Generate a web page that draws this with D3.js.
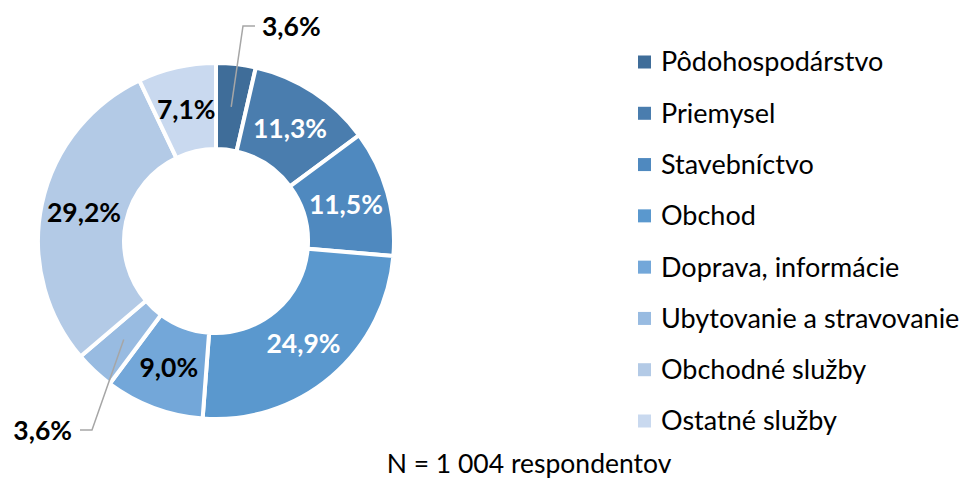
<!DOCTYPE html>
<html>
<head>
<meta charset="utf-8">
<script src="https://cdn.jsdelivr.net/npm/d3@7"></script>
<style>
  body { margin: 0; background: #fff; }
  text { font-family: Lato, "Open Sans", sans-serif; }
</style>
</head>
<body>
<div id="chart"></div>
<script>
var width = 964;
var height = 479;

// data
var categories = ["Pôdohospodárstvo", "Priemysel", "Stavebníctvo", "Obchod",
    "Doprava, informácie", "Ubytovanie a stravovanie", "Obchodné služby", "Ostatné služby"];
var shares = [3.6, 11.3, 11.5, 24.9, 9.0, 3.6, 29.2, 7.1];
var colors = ["#3f6d99", "#4a7dae", "#4f89bf", "#5a98ce", "#73a7d9", "#98bbe1", "#b3cae6", "#c9d9ef"];
var whiteLabels = [1, 2, 3];
var footnote = "N = 1 004 respondentov";

var cx = 216, cy = 241;
var outerR = 178, innerR = 92;

var svg = d3.select("#chart")
    .append("svg")
    .attr("width", width)
    .attr("height", height);

var pie = d3.pie().sort(null).value(function (d) { return d; });
var arc = d3.arc().innerRadius(innerR).outerRadius(outerR);
var labelArc = d3.arc().innerRadius(135).outerRadius(135);

var fmt = function (v) { return d3.format(".1f")(v).replace(".", ",") + "%"; };

var g = svg.append("g").attr("transform", "translate(" + cx + "," + cy + ")");

var arcs = pie(shares);

g.selectAll("path")
    .data(arcs)
    .join("path")
    .attr("d", arc)
    .attr("fill", function (d, i) { return colors[i]; })
    .attr("stroke", "#fff")
    .attr("stroke-width", 4)
    .attr("stroke-linejoin", "miter");

// labels inside the ring (small slices get leader lines)
var outside = { 0: { elbow: [243, 26], end: [255, 26], anchor: "start", tx: 262 },
                5: { elbow: [92, 430], end: [80, 430], anchor: "end", tx: 72 } };

arcs.forEach(function (d, i) {
    var c = labelArc.centroid(d);
    if (outside[i]) {
        var o = outside[i];
        svg.append("polyline")
            .attr("points", [[c[0] + cx, c[1] + cy], o.elbow, o.end].map(function (p) { return p.join(","); }).join(" "))
            .attr("fill", "none")
            .attr("stroke", "#a6a6a6")
            .attr("stroke-width", 1.5);
        svg.append("text")
            .attr("x", o.tx)
            .attr("y", o.end[1])
            .attr("dy", "0.36em")
            .attr("text-anchor", o.anchor)
            .attr("font-size", 26.5)
            .attr("font-weight", "bold")
            .attr("fill", "#000")
            .text(fmt(shares[i]));
    } else {
        g.append("text")
            .attr("x", c[0])
            .attr("y", c[1])
            .attr("dy", "0.36em")
            .attr("text-anchor", "middle")
            .attr("font-size", 26.5)
            .attr("font-weight", "bold")
            .attr("fill", whiteLabels.indexOf(i) >= 0 ? "#fff" : "#000")
            .text(fmt(shares[i]));
    }
});

// legend
var legendY = d3.scalePoint().domain(categories).range([62, 421]);

var legend = svg.append("g");
legend.selectAll("rect")
    .data(categories)
    .join("rect")
    .attr("x", 638)
    .attr("y", function (d) { return legendY(d) - 6.5; })
    .attr("width", 13)
    .attr("height", 13)
    .attr("fill", function (d, i) { return colors[i]; });

legend.selectAll("text")
    .data(categories)
    .join("text")
    .attr("x", 661)
    .attr("y", legendY)
    .attr("dy", "0.35em")
    .attr("font-size", 27)
    .attr("fill", "#000")
    .text(function (d) { return d; });

svg.append("text")
    .attr("x", 529)
    .attr("y", 473)
    .attr("text-anchor", "middle")
    .attr("font-size", 26.5)
    .attr("fill", "#000")
    .text(footnote);
</script>
</body>
</html>
